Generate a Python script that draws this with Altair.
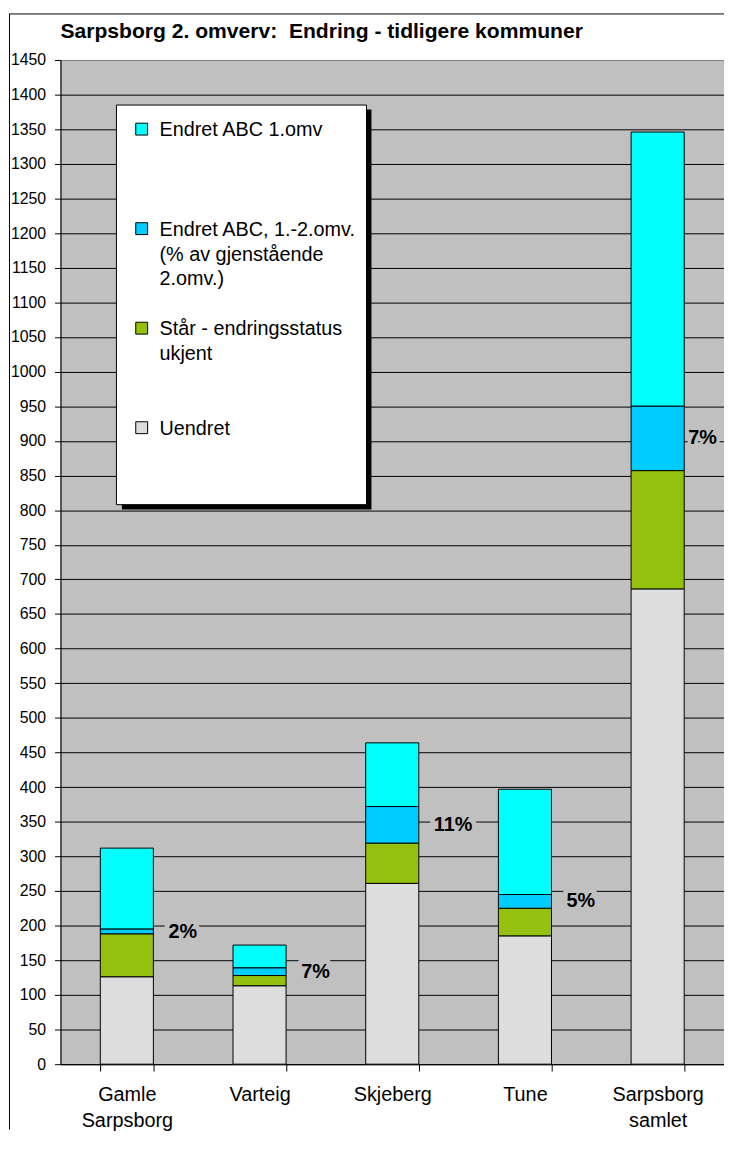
import altair as alt
import pandas as pd

# ---- data ----
categories = ["Gamle Sarpsborg", "Varteig", "Skjeberg", "Tune", "Sarpsborg samlet"]
uendret = [126, 113, 261, 185, 686]
staar = [62, 15, 58, 40, 171]
endret_12 = [7, 11, 53, 20, 93]
endret_1 = [117, 33, 92, 152, 396]
pct_labels = ["2%", "7%", "11%", "5%", "7%"]

series_names = [
    "Endret ABC 1.omv",
    "Endret ABC, 1.-2.omv. (% av gjenstående 2.omv.)",
    "Står - endringsstatus ukjent",
    "Uendret",
]
legend_lines = [
    ["Endret ABC 1.omv", "", "", ""],
    ["Endret ABC, 1.-2.omv.", "(% av gjenstående", "2.omv.)", ""],
    ["Står - endringsstatus", "ukjent", "", ""],
    ["Uendret"],
]
series_colors = ["#00FFFF", "#00CCFF", "#94C10D", "#DDDDDD"]
y_ticks = list(range(0, 1451, 50))

FONT = "Liberation Sans"

# ---- tables ----
rows = []
values_by_series = [endret_1, endret_12, staar, uendret]
for si, (name, vals) in enumerate(zip(series_names, values_by_series)):
    for c, v in zip(categories, vals):
        rows.append({"cat": c, "series": name, "value": v, "stack_order": 3 - si})
bars_df = pd.DataFrame(rows)

lbl_df = pd.DataFrame({
    "cat": categories,
    "value": [u + s + e / 2 for u, s, e in zip(uendret, staar, endret_12)],
    "txt": pct_labels,
})

def js_list(lines):
    return "[" + ",".join("'" + l.replace("'", "\\'") + "'" for l in lines) + "]"

expr = js_list(legend_lines[-1])
for name, lines in reversed(list(zip(series_names[:-1], legend_lines[:-1]))):
    expr = f"datum.label == '{name}' ? {js_list(lines)} : ({expr})"

x_axis = alt.Axis(
    labelAngle=0,
    tickBand="extent",
    labelExpr="split(datum.label, ' ')",
    labelFont=FONT,
    labelFontSize=20,
    labelColor="black",
    labelLineHeight=26,
    labelPadding=14,
    tickSize=7,
    tickColor="black",
    domainColor="black",
    grid=False,
)
y_axis = alt.Axis(
    values=y_ticks,
    format="d",
    labelOverlap=False,
    labelFont=FONT,
    labelFontSize=16,
    labelColor="black",
    labelPadding=9,
    tickSize=6,
    tickColor="black",
    domainColor="black",
    gridColor={"condition": {"test": "datum.value === 1450", "value": "#808080"}, "value": "black"},
    gridWidth=1,
)
x_scale = alt.Scale(paddingInner=0.6, paddingOuter=0.3)
y_scale = alt.Scale(domain=[0, 1450], nice=False)

x_enc = alt.X("cat:N", sort=categories, title=None, scale=x_scale, axis=x_axis)

bars = alt.Chart(bars_df).mark_bar(stroke="black", strokeWidth=1).encode(
    x=x_enc,
    y=alt.Y("value:Q", stack="zero", scale=y_scale, title=None, axis=y_axis),
    color=alt.Color(
        "series:N",
        sort=series_names,
        scale=alt.Scale(domain=series_names, range=series_colors),
        legend=alt.Legend(
            title=None,
            orient="none",
            legendX=72,
            legendY=67,
            padding=0,
            symbolType="M-1,-2.2L1,-2.2L1,-0.2L-1,-0.2Z",
            symbolSize=144,
            symbolStrokeColor="black",
            symbolStrokeWidth=1,
            symbolOpacity=1,
            labelFont=FONT,
            labelFontSize=20,
            labelColor="black",
            labelBaseline="alphabetic",
            labelOffset=8,
            labelLimit=400,
            rowPadding=5.5,
            labelExpr=expr,
        ),
    ),
    order=alt.Order("stack_order:Q", sort="ascending"),
)

lbl_base = alt.Chart(lbl_df).encode(
    x=x_enc,
    y=alt.Y("value:Q", scale=y_scale, title=None, axis=y_axis),
    text="txt:N",
)
last_cat = categories[-1]
lbl_main = lbl_base.transform_filter(alt.datum.cat != last_cat)
lbl_last = lbl_base.transform_filter(alt.datum.cat == last_cat)

def mask(ch, dx, sw):
    return ch.mark_text(
        align="left", baseline="middle", dx=dx, font=FONT, fontSize=20,
        fontWeight="bold", stroke="#C0C0C0", strokeWidth=sw, strokeJoin="round", fill="#C0C0C0",
    )

def label(ch, dx):
    return ch.mark_text(
        align="left", baseline="middle", dx=dx, font=FONT, fontSize=20,
        fontWeight="bold", color="black",
    )

one = pd.DataFrame({"k": [0]})
shadow = alt.Chart(one).mark_rect(color="black").encode(
    x=alt.value(62), x2=alt.value(314), y=alt.value(50), y2=alt.value(454)
)
legend_box = alt.Chart(one).mark_rect(fill="white", stroke="black", strokeWidth=1).encode(
    x=alt.value(56.5), x2=alt.value(309), y=alt.value(45.5), y2=alt.value(449)
)
frame_left = alt.Chart(one).mark_rule(color="black", strokeWidth=1).encode(
    x=alt.value(-51.5), y=alt.value(-46.5), y2=alt.value(1080)
)
frame_top = alt.Chart(one).mark_rule(color="black", strokeWidth=1).encode(
    x=alt.value(-52), x2=alt.value(675), y=alt.value(-46.5)
)

chart = alt.layer(
    bars,
    mask(lbl_main, 42, 10), label(lbl_main, 42),
    mask(lbl_last, 31, 7), label(lbl_last, 31),
    shadow, legend_box, frame_left, frame_top,
).properties(
    width=670,
    height=1014,
    title=alt.Title(
        "Sarpsborg 2. omverv:\u00a0 Endring - tidligere kommuner",
        anchor="start",
        frame="group",
        font=FONT,
        fontSize=21.3,
        fontWeight="bold",
        color="black",
        baseline="alphabetic",
        offset=-46,
    ),
    autosize=alt.AutoSizeParams(type="none"),
    padding={"left": 53, "top": 47, "right": 0, "bottom": 66},
    background="white",
).configure(
    view=alt.ViewConfig(fill="#C0C0C0", stroke="#808080", strokeWidth=1),
    style={"guide-label": {"lineHeight": 25}},
)

chart.save("out.html", embed_options={"renderer": "svg", "actions": False})
